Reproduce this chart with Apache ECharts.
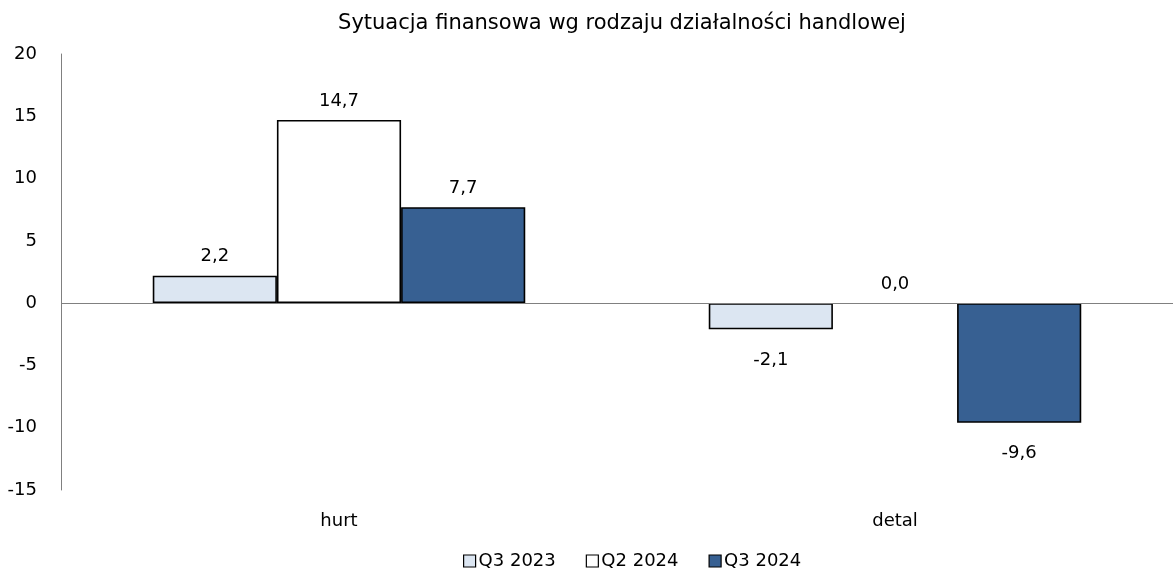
<!DOCTYPE html>
<html>
<head>
<meta charset="utf-8">
<script src="https://cdn.jsdelivr.net/npm/echarts@6/dist/echarts.min.js"></script>
<style>
  html, body { margin: 0; padding: 0; background: #fff; }
  #chart { width: 1173px; height: 578px; }
</style>
</head>
<body>
<div id="chart"></div>
<script>
var categories = ['hurt', 'detal'];
var seriesNames = ['Q3 2023', 'Q2 2024', 'Q3 2024'];
var q3_2023 = [2.2, -2.1];
var q2_2024 = [14.7, 0.0];
var q3_2024 = [7.7, -9.6];
var yTicks = { min: -15, max: 20, interval: 5 };

var colors = ['#dce6f2', '#ffffff', '#376092'];
var font = 'DejaVu Sans';

function fmt(v) {
  return v.toFixed(1).replace('.', ',');
}

function makeSeries(name, data, color, first) {
  var s = {
    name: name,
    type: 'bar',
    barGap: '0%',
    barCategoryGap: '33%',
    itemStyle: { color: color, borderColor: '#000', borderWidth: 1.6 },
    label: {
      show: true,
      fontFamily: font,
      fontSize: 18,
      color: '#000',
      formatter: function (p) { return fmt(p.value); }
    }
  };
  // negatives get their label under the bar, empty bars lose the outline
  s.data = data.map(function (v) {
    var item = {
      value: v,
      label: { position: v < 0 ? 'bottom' : 'top', distance: v < 0 ? 22 : 10 }
    };
    if (v === 0) item.itemStyle = { borderWidth: 0 };
    return item;
  });
  if (first) {
    s.markLine = {
      silent: true,
      symbol: 'none',
      label: { show: false },
      lineStyle: { color: '#808080', width: 1, type: 'solid' },
      data: [{ yAxis: 0 }]
    };
  }
  return s;
}

var chart = echarts.init(document.getElementById('chart'));
chart.setOption({
  animation: false,
  title: {
    text: 'Sytuacja finansowa wg rodzaju działalności handlowej',
    left: 617,
    textAlign: 'center',
    top: 8,
    textStyle: { fontFamily: font, fontSize: 21, fontWeight: 'normal', color: '#000' }
  },
  legend: {
    bottom: 3,
    left: 458,
    itemWidth: 12,
    itemHeight: 12,
    itemGap: 30,
    icon: 'rect',
    textStyle: { fontFamily: font, fontSize: 18, color: '#000', padding: [0, 0, 0, -2] },
    itemStyle: { borderColor: '#000', borderWidth: 1.2 },
    data: seriesNames
  },
  grid: { left: 61, right: 0, top: 54, bottom: 88 },
  xAxis: {
    type: 'category',
    data: categories,
    axisLine: { show: false },
    axisTick: { show: false },
    axisLabel: { fontFamily: font, fontSize: 18, color: '#000', margin: 22 }
  },
  yAxis: {
    type: 'value',
    min: yTicks.min,
    max: yTicks.max,
    interval: yTicks.interval,
    axisLine: { show: true, lineStyle: { color: '#808080', width: 1 } },
    axisTick: { show: false },
    splitLine: { show: false },
    axisLabel: { fontFamily: font, fontSize: 18, color: '#000', margin: 24 }
  },
  series: [
    makeSeries(seriesNames[0], q3_2023, colors[0], true),
    makeSeries(seriesNames[1], q2_2024, colors[1], false),
    makeSeries(seriesNames[2], q3_2024, colors[2], false)
  ]
});
</script>
</body>
</html>
